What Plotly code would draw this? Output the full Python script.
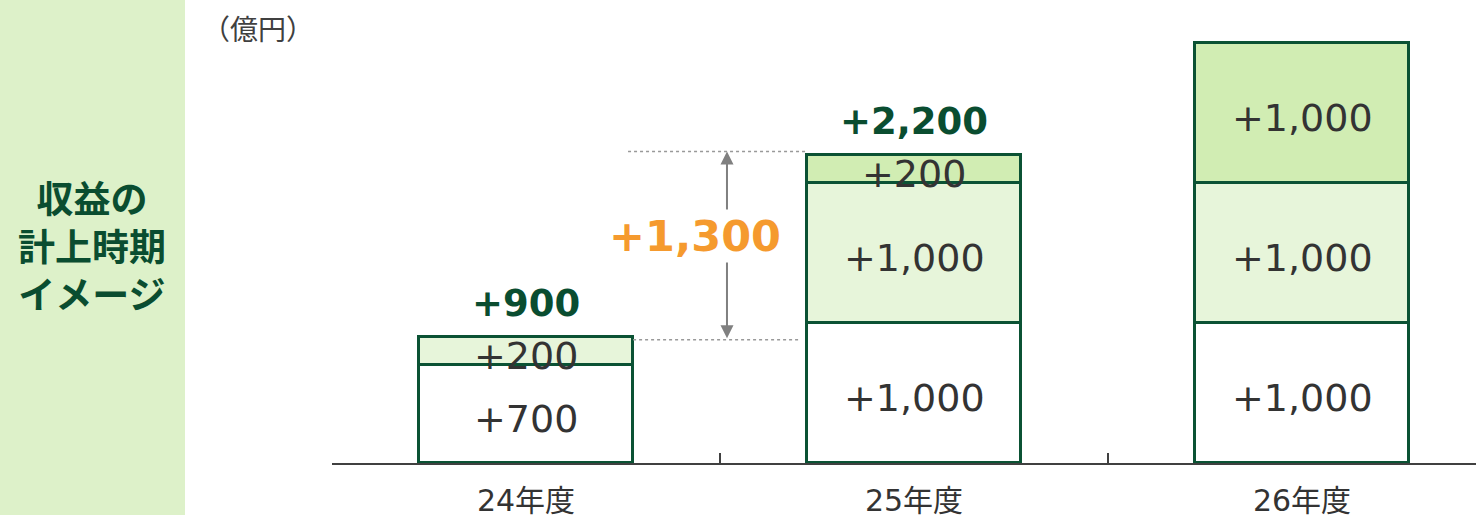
import plotly.graph_objects as go

categories = ["24年度", "25年度", "26年度"]
seg_base = [700, 1000, 1000]
seg_mid = [200, 1000, 1000]
seg_top = [None, 200, 1000]
total_cats = ["24年度", "25年度"]
unit_label = "（億円）"
side_title = "収益の<br>計上時期<br>イメージ"

W, H = 1476, 515
EDGE = "#0b5234"
DARK_GREEN = "#0a4d30"
ORANGE = "#f59a2e"
NUM_FONT = "DejaVu Sans, Noto Sans CJK JP"

fig = go.Figure()
series = [(seg_base, "#ffffff"), (seg_mid, "#e7f5da"), (seg_top, "#d1edb3")]
for vals, col in series:
    fig.add_trace(go.Bar(x=categories, y=vals, width=0.554,
                         marker=dict(color=col, line=dict(color=EDGE, width=3)),
                         hoverinfo="skip", showlegend=False))

annotations = []
for i, c in enumerate(categories):
    base = 0
    for vals, _ in series:
        v = vals[i]
        if v:
            annotations.append(dict(x=c, y=base + v / 2, xref="x", yref="y",
                                    text=f"+{v:,}", showarrow=False,
                                    font=dict(family=NUM_FONT, size=38, color="#333333"),
                                    yshift=-5))
            base += v

totals = {}
for i, c in enumerate(categories):
    totals[c] = sum(v for v in (seg_base[i], seg_mid[i], seg_top[i]) if v)

for c in total_cats:
    annotations.append(dict(x=c, y=totals[c], xref="x", yref="y",
                            text=f"<b>+{totals[c]:,}</b>", showarrow=False,
                            yanchor="bottom", yshift=10,
                            font=dict(family=NUM_FONT, size=37, color=DARK_GREEN)))

lo, hi = totals[total_cats[0]], totals[total_cats[1]]
ax_x = 0.518
annotations.append(dict(x=ax_x, y=hi + 25, ax=ax_x, ay=lo - 20, xref="x", yref="y",
                        axref="x", ayref="y", text="", showarrow=True,
                        arrowhead=2, arrowside="end+start", arrowsize=1.3,
                        arrowwidth=2, arrowcolor="#808080"))
annotations.append(dict(x=0.436, y=(hi + lo) / 2, xref="x", yref="y",
                        text=f"<b>+{hi - lo:,}</b>", showarrow=False,
                        bgcolor="#ffffff", yshift=10,
                        font=dict(family=NUM_FONT, size=43, color=ORANGE)))

annotations.append(dict(x=200 / W, y=1 - 28 / H, xref="paper", yref="paper",
                        xanchor="left", yanchor="middle", text=unit_label, showarrow=False,
                        font=dict(family="Noto Sans CJK JP", size=28, color="#404040")))
annotations.append(dict(x=92 / W, y=1 - 245 / H, xref="paper", yref="paper",
                        xanchor="center", yanchor="middle", text=f"<b>{side_title}</b>",
                        showarrow=False, align="center",
                        font=dict(family="Noto Sans CJK JP", size=37, color=DARK_GREEN)))

shapes = [
    dict(type="rect", xref="paper", yref="paper", x0=0, x1=185 / W, y0=0, y1=1,
         fillcolor="#ddf1c9", line=dict(width=0), layer="below"),
    dict(type="line", xref="x", yref="y", x0=0.263, x1=0.722, y0=hi + 25, y1=hi + 25,
         line=dict(color="#999999", width=1.5, dash="dot")),
    dict(type="line", xref="x", yref="y", x0=0.276, x1=0.706, y0=lo - 20, y1=lo - 20,
         line=dict(color="#999999", width=1.5, dash="dot")),
]

px_per_cat = 388
x_dom0 = 332 / W
x_range_end = -0.5 + (W - 332) / px_per_cat
y_dom0 = 52 / H
y_top = (H - 52) / 0.14

fig.update_layout(
    width=W, height=H, autosize=False,
    margin=dict(l=0, r=0, t=0, b=0),
    barmode="stack", bargap=0,
    plot_bgcolor="#ffffff", paper_bgcolor="#ffffff",
    annotations=annotations, shapes=shapes,
    xaxis=dict(domain=[x_dom0, 1], range=[-0.5, x_range_end], type="category",
               showline=True, linecolor="#404040", linewidth=2,
               ticks="inside", tickson="boundaries", ticklen=10, tickwidth=1.5,
               tickcolor="#404040", showgrid=False, zeroline=False,
               ticklabelstandoff=10, automargin=False,
               tickfont=dict(family=NUM_FONT, size=30, color="#333333")),
    yaxis=dict(domain=[y_dom0, 1], range=[0, y_top], visible=False,
               showgrid=False, zeroline=False, automargin=False),
)

fig.write_html("out.html", config={"displayModeBar": False},
               post_script="document.body.style.margin='0';")
